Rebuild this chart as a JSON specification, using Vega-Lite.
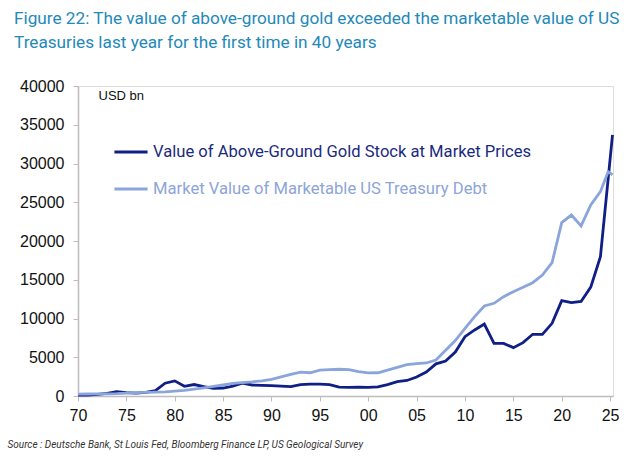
{
  "$schema": "https://vega.github.io/schema/vega-lite/v6.json",
  "autosize": {"type": "none"},
  "width": 535,
  "height": 310,
  "padding": {"left": 78, "top": 86, "right": 23, "bottom": 66},
  "background": "white",
  "title": {
    "text": ["Figure 22: The value of above-ground gold exceeded the marketable value of US", "Treasuries last year for the first time in 40 years"],
    "anchor": "start",
    "frame": "group",
    "dx": -64,
    "offset": 27,
    "font": "Roboto",
    "fontSize": 17.2,
    "fontWeight": "normal",
    "color": "#2389b9",
    "lineHeight": 24
  },
  "data": {
    "values": [
      {"year": 1970, "series": "Value of Above-Ground Gold Stock at Market Prices", "value": 100},
      {"year": 1971, "series": "Value of Above-Ground Gold Stock at Market Prices", "value": 130},
      {"year": 1972, "series": "Value of Above-Ground Gold Stock at Market Prices", "value": 200},
      {"year": 1973, "series": "Value of Above-Ground Gold Stock at Market Prices", "value": 350},
      {"year": 1974, "series": "Value of Above-Ground Gold Stock at Market Prices", "value": 560},
      {"year": 1975, "series": "Value of Above-Ground Gold Stock at Market Prices", "value": 430},
      {"year": 1976, "series": "Value of Above-Ground Gold Stock at Market Prices", "value": 360},
      {"year": 1977, "series": "Value of Above-Ground Gold Stock at Market Prices", "value": 470},
      {"year": 1978, "series": "Value of Above-Ground Gold Stock at Market Prices", "value": 700},
      {"year": 1979, "series": "Value of Above-Ground Gold Stock at Market Prices", "value": 1650},
      {"year": 1980, "series": "Value of Above-Ground Gold Stock at Market Prices", "value": 1950},
      {"year": 1981, "series": "Value of Above-Ground Gold Stock at Market Prices", "value": 1250},
      {"year": 1982, "series": "Value of Above-Ground Gold Stock at Market Prices", "value": 1480},
      {"year": 1983, "series": "Value of Above-Ground Gold Stock at Market Prices", "value": 1200},
      {"year": 1984, "series": "Value of Above-Ground Gold Stock at Market Prices", "value": 980},
      {"year": 1985, "series": "Value of Above-Ground Gold Stock at Market Prices", "value": 1030},
      {"year": 1986, "series": "Value of Above-Ground Gold Stock at Market Prices", "value": 1280},
      {"year": 1987, "series": "Value of Above-Ground Gold Stock at Market Prices", "value": 1650},
      {"year": 1988, "series": "Value of Above-Ground Gold Stock at Market Prices", "value": 1420},
      {"year": 1989, "series": "Value of Above-Ground Gold Stock at Market Prices", "value": 1380},
      {"year": 1990, "series": "Value of Above-Ground Gold Stock at Market Prices", "value": 1330},
      {"year": 1991, "series": "Value of Above-Ground Gold Stock at Market Prices", "value": 1280},
      {"year": 1992, "series": "Value of Above-Ground Gold Stock at Market Prices", "value": 1200},
      {"year": 1993, "series": "Value of Above-Ground Gold Stock at Market Prices", "value": 1480},
      {"year": 1994, "series": "Value of Above-Ground Gold Stock at Market Prices", "value": 1530},
      {"year": 1995, "series": "Value of Above-Ground Gold Stock at Market Prices", "value": 1520},
      {"year": 1996, "series": "Value of Above-Ground Gold Stock at Market Prices", "value": 1480},
      {"year": 1997, "series": "Value of Above-Ground Gold Stock at Market Prices", "value": 1150},
      {"year": 1998, "series": "Value of Above-Ground Gold Stock at Market Prices", "value": 1120},
      {"year": 1999, "series": "Value of Above-Ground Gold Stock at Market Prices", "value": 1140},
      {"year": 2000, "series": "Value of Above-Ground Gold Stock at Market Prices", "value": 1120},
      {"year": 2001, "series": "Value of Above-Ground Gold Stock at Market Prices", "value": 1170},
      {"year": 2002, "series": "Value of Above-Ground Gold Stock at Market Prices", "value": 1480},
      {"year": 2003, "series": "Value of Above-Ground Gold Stock at Market Prices", "value": 1850},
      {"year": 2004, "series": "Value of Above-Ground Gold Stock at Market Prices", "value": 2000},
      {"year": 2005, "series": "Value of Above-Ground Gold Stock at Market Prices", "value": 2450},
      {"year": 2006, "series": "Value of Above-Ground Gold Stock at Market Prices", "value": 3100},
      {"year": 2007, "series": "Value of Above-Ground Gold Stock at Market Prices", "value": 4150},
      {"year": 2008, "series": "Value of Above-Ground Gold Stock at Market Prices", "value": 4520},
      {"year": 2009, "series": "Value of Above-Ground Gold Stock at Market Prices", "value": 5680},
      {"year": 2010, "series": "Value of Above-Ground Gold Stock at Market Prices", "value": 7660},
      {"year": 2011, "series": "Value of Above-Ground Gold Stock at Market Prices", "value": 8520},
      {"year": 2012, "series": "Value of Above-Ground Gold Stock at Market Prices", "value": 9290},
      {"year": 2013, "series": "Value of Above-Ground Gold Stock at Market Prices", "value": 6790},
      {"year": 2014, "series": "Value of Above-Ground Gold Stock at Market Prices", "value": 6790},
      {"year": 2015, "series": "Value of Above-Ground Gold Stock at Market Prices", "value": 6240},
      {"year": 2016, "series": "Value of Above-Ground Gold Stock at Market Prices", "value": 6880},
      {"year": 2017, "series": "Value of Above-Ground Gold Stock at Market Prices", "value": 7960},
      {"year": 2018, "series": "Value of Above-Ground Gold Stock at Market Prices", "value": 7960},
      {"year": 2019, "series": "Value of Above-Ground Gold Stock at Market Prices", "value": 9380},
      {"year": 2020, "series": "Value of Above-Ground Gold Stock at Market Prices", "value": 12300},
      {"year": 2021, "series": "Value of Above-Ground Gold Stock at Market Prices", "value": 12040},
      {"year": 2022, "series": "Value of Above-Ground Gold Stock at Market Prices", "value": 12200},
      {"year": 2023, "series": "Value of Above-Ground Gold Stock at Market Prices", "value": 14050},
      {"year": 2024, "series": "Value of Above-Ground Gold Stock at Market Prices", "value": 17980},
      {"year": 2025.25, "series": "Value of Above-Ground Gold Stock at Market Prices", "value": 33680},
      {"year": 1970, "series": "Market Value of Marketable US Treasury Debt", "value": 240},
      {"year": 1971, "series": "Market Value of Marketable US Treasury Debt", "value": 260},
      {"year": 1972, "series": "Market Value of Marketable US Treasury Debt", "value": 270},
      {"year": 1973, "series": "Market Value of Marketable US Treasury Debt", "value": 280},
      {"year": 1974, "series": "Market Value of Marketable US Treasury Debt", "value": 300},
      {"year": 1975, "series": "Market Value of Marketable US Treasury Debt", "value": 370},
      {"year": 1976, "series": "Market Value of Marketable US Treasury Debt", "value": 430},
      {"year": 1977, "series": "Market Value of Marketable US Treasury Debt", "value": 470},
      {"year": 1978, "series": "Market Value of Marketable US Treasury Debt", "value": 500},
      {"year": 1979, "series": "Market Value of Marketable US Treasury Debt", "value": 540},
      {"year": 1980, "series": "Market Value of Marketable US Treasury Debt", "value": 620},
      {"year": 1981, "series": "Market Value of Marketable US Treasury Debt", "value": 720},
      {"year": 1982, "series": "Market Value of Marketable US Treasury Debt", "value": 880},
      {"year": 1983, "series": "Market Value of Marketable US Treasury Debt", "value": 1050},
      {"year": 1984, "series": "Market Value of Marketable US Treasury Debt", "value": 1230},
      {"year": 1985, "series": "Market Value of Marketable US Treasury Debt", "value": 1420},
      {"year": 1986, "series": "Market Value of Marketable US Treasury Debt", "value": 1620},
      {"year": 1987, "series": "Market Value of Marketable US Treasury Debt", "value": 1720},
      {"year": 1988, "series": "Market Value of Marketable US Treasury Debt", "value": 1820},
      {"year": 1989, "series": "Market Value of Marketable US Treasury Debt", "value": 1950},
      {"year": 1990, "series": "Market Value of Marketable US Treasury Debt", "value": 2150},
      {"year": 1991, "series": "Market Value of Marketable US Treasury Debt", "value": 2480},
      {"year": 1992, "series": "Market Value of Marketable US Treasury Debt", "value": 2800},
      {"year": 1993, "series": "Market Value of Marketable US Treasury Debt", "value": 3080},
      {"year": 1994, "series": "Market Value of Marketable US Treasury Debt", "value": 3000},
      {"year": 1995, "series": "Market Value of Marketable US Treasury Debt", "value": 3350},
      {"year": 1996, "series": "Market Value of Marketable US Treasury Debt", "value": 3400},
      {"year": 1997, "series": "Market Value of Marketable US Treasury Debt", "value": 3450},
      {"year": 1998, "series": "Market Value of Marketable US Treasury Debt", "value": 3400},
      {"year": 1999, "series": "Market Value of Marketable US Treasury Debt", "value": 3150},
      {"year": 2000, "series": "Market Value of Marketable US Treasury Debt", "value": 2980},
      {"year": 2001, "series": "Market Value of Marketable US Treasury Debt", "value": 3000},
      {"year": 2002, "series": "Market Value of Marketable US Treasury Debt", "value": 3330},
      {"year": 2003, "series": "Market Value of Marketable US Treasury Debt", "value": 3700},
      {"year": 2004, "series": "Market Value of Marketable US Treasury Debt", "value": 4040},
      {"year": 2005, "series": "Market Value of Marketable US Treasury Debt", "value": 4170},
      {"year": 2006, "series": "Market Value of Marketable US Treasury Debt", "value": 4260},
      {"year": 2007, "series": "Market Value of Marketable US Treasury Debt", "value": 4640},
      {"year": 2008, "series": "Market Value of Marketable US Treasury Debt", "value": 5900},
      {"year": 2009, "series": "Market Value of Marketable US Treasury Debt", "value": 7150},
      {"year": 2010, "series": "Market Value of Marketable US Treasury Debt", "value": 8730},
      {"year": 2011, "series": "Market Value of Marketable US Treasury Debt", "value": 10240},
      {"year": 2012, "series": "Market Value of Marketable US Treasury Debt", "value": 11610},
      {"year": 2013, "series": "Market Value of Marketable US Treasury Debt", "value": 11960},
      {"year": 2014, "series": "Market Value of Marketable US Treasury Debt", "value": 12820},
      {"year": 2015, "series": "Market Value of Marketable US Treasury Debt", "value": 13460},
      {"year": 2016, "series": "Market Value of Marketable US Treasury Debt", "value": 14020},
      {"year": 2017, "series": "Market Value of Marketable US Treasury Debt", "value": 14620},
      {"year": 2018, "series": "Market Value of Marketable US Treasury Debt", "value": 15610},
      {"year": 2019, "series": "Market Value of Marketable US Treasury Debt", "value": 17200},
      {"year": 2020, "series": "Market Value of Marketable US Treasury Debt", "value": 22370},
      {"year": 2021, "series": "Market Value of Marketable US Treasury Debt", "value": 23350},
      {"year": 2022, "series": "Market Value of Marketable US Treasury Debt", "value": 21950},
      {"year": 2023, "series": "Market Value of Marketable US Treasury Debt", "value": 24650},
      {"year": 2024, "series": "Market Value of Marketable US Treasury Debt", "value": 26370},
      {"year": 2024.8, "series": "Market Value of Marketable US Treasury Debt", "value": 28940},
      {"year": 2025.25, "series": "Market Value of Marketable US Treasury Debt", "value": 28520}
    ]
  },
  "mark": {"type": "line", "strokeWidth": 2.8, "interpolate": "linear"},
  "encoding": {
    "x": {
      "field": "year",
      "type": "quantitative",
      "scale": {"domain": [1970, 2025.3], "nice": false, "zero": false},
      "axis": {
        "values": [1970, 1975, 1980, 1985, 1990, 1995, 2000, 2005, 2010, 2015, 2020, 2025],
        "labelExpr": "(datum.value % 100) < 10 ? '0' + (datum.value % 100) : '' + (datum.value % 100)",
        "grid": false,
        "domainColor": "#bdbdbd",
        "domainWidth": 1.5,
        "tickColor": "#bdbdbd",
        "tickSize": 5,
        "labelFont": "Liberation Sans",
        "labelFontSize": 16,
        "labelColor": "#111111",
        "labelPadding": 6,
        "labelFlush": false,
        "labelOverlap": false,
        "title": "Source : Deutsche Bank, St Louis Fed, Bloomberg Finance LP, US Geological Survey",
        "titleX": -71,
        "titleY": 48,
        "titleAlign": "left",
        "titleAnchor": "start",
        "titleBaseline": "middle",
        "titleFont": "Roboto",
        "titleFontSize": 10,
        "titleFontStyle": "italic",
        "titleFontWeight": "normal",
        "titleColor": "#333333"
      }
    },
    "y": {
      "field": "value",
      "type": "quantitative",
      "scale": {"domain": [0, 40000], "nice": false},
      "axis": {
        "values": [0, 5000, 10000, 15000, 20000, 25000, 30000, 35000, 40000],
        "format": "d",
        "grid": false,
        "domainColor": "#bdbdbd",
        "domainWidth": 1.5,
        "tickColor": "#bdbdbd",
        "tickSize": 5,
        "labelFont": "Liberation Sans",
        "labelFontSize": 16,
        "labelColor": "#111111",
        "labelPadding": 9,
        "title": "USD bn",
        "titleAngle": 0,
        "titleX": 20,
        "titleY": 9,
        "titleAlign": "left",
        "titleBaseline": "middle",
        "titleFont": "Liberation Sans",
        "titleFontSize": 13,
        "titleFontWeight": "normal",
        "titleColor": "#111111"
      }
    },
    "color": {
      "field": "series",
      "type": "nominal",
      "sort": ["Value of Above-Ground Gold Stock at Market Prices", "Market Value of Marketable US Treasury Debt"],
      "scale": {
        "domain": ["Value of Above-Ground Gold Stock at Market Prices", "Market Value of Marketable US Treasury Debt"],
        "range": ["#0f1f85", "#8aa5dc"]
      },
      "legend": {
        "orient": "none",
        "legendX": 35,
        "legendY": 48,
        "title": null,
        "symbolType": "stroke",
        "symbolSize": 1100,
        "symbolStrokeWidth": 2.8,
        "labelFont": "Roboto",
        "labelFontSize": 16.6,
        "labelOffset": 4,
        "labelLimit": 600,
        "rowPadding": 10,
        "encode": {
          "labels": {
            "update": {
              "fill": {"signal": "datum.label === 'Value of Above-Ground Gold Stock at Market Prices' ? '#1b2a80' : '#8ea5d8'"}
            }
          }
        }
      }
    }
  }
}
